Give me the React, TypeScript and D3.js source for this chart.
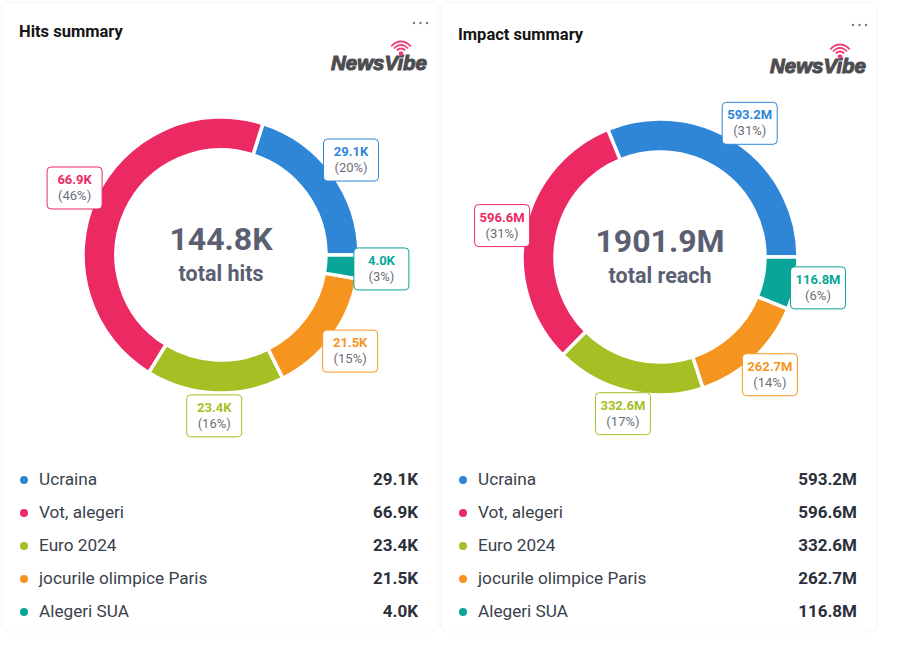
import React from "react";
import * as d3 from "d3";

const categories = ["Ucraina", "Vot, alegeri", "Euro 2024", "jocurile olimpice Paris", "Alegeri SUA"];
const colors = ["#2f86d7", "#eb2a63", "#a5bf25", "#f5951f", "#08a598"];
const hitsValues = [29.1, 66.9, 23.4, 21.5, 4.0];
const reachValues = [593.2, 596.6, 332.6, 262.7, 116.8];
const hitsLabels = ["29.1K", "66.9K", "23.4K", "21.5K", "4.0K"];
const reachLabels = ["593.2M", "596.6M", "332.6M", "262.7M", "116.8M"];
const totals = ["144.8K", "1901.9M"];
const totalCaptions = ["total hits", "total reach"];
const titles = ["Hits summary", "Impact summary"];

const FONT = "Roboto, 'Noto Sans', sans-serif";

function Logo({ x, y }: { x: number; y: number }) {
  const ix = x + 70;
  const iy = y - 16.5;
  return (
    <g>
      <text x={x} y={y} fontFamily="'Liberation Sans', Arial, sans-serif" fontWeight={900}
        fontStyle="italic" fontSize={21} fill="#4d4d4f" textLength={96} lengthAdjust="spacingAndGlyphs"
        stroke="#4d4d4f" strokeWidth={1.1}>NewsVibe</text>
      <circle cx={ix} cy={iy} r={2.3} fill="#e8447c" />
      {[5, 8.5, 12].map((r, i) => (
        <path key={i} d={d3.arc()({ innerRadius: r - 0.9, outerRadius: r + 0.9, startAngle: -Math.PI / 3.3, endAngle: Math.PI / 3.3 }) as string}
          transform={`translate(${ix},${iy})`} fill="#e8447c" />
      ))}
    </g>
  );
}

function Panel({ ox, values, labels, total, caption, title, titleY, dotsY, logoY, cx, cy }:
  { ox: number; values: number[]; labels: string[]; total: string; caption: string; title: string; titleY: number; dotsY: number; logoY: number; cx: number; cy: number }) {
  const pie = d3.pie<number>().sort(null).value((d) => d).startAngle(Math.PI / 2).endAngle(Math.PI / 2 - 2 * Math.PI);
  const arcs = pie(values);
  const outerR = 138;
  const innerR = 105;
  const arcGen = d3.arc<d3.PieArcDatum<number>>().innerRadius(innerR).outerRadius(outerR);
  const labelArc = d3.arc<d3.PieArcDatum<number>>().innerRadius(161).outerRadius(161);
  const sum = d3.sum(values);
  const legendY = d3.scaleLinear().domain([0, 1]).range([485, 518]);
  const boxW = 55, boxH = 42;
  return (
    <g>
      <rect x={ox + 2} y={2} width={436} height={630} rx={6} fill="#fff" stroke="#f5f5f7" strokeWidth={1} />
      <text x={ox + 19} y={titleY} fontFamily={FONT} fontWeight={700} fontSize={16.5} fill="#141414">{title}</text>
      {[0, 1, 2].map((i) => (
        <circle key={i} cx={ox + 414 + i * 6.5} cy={dotsY} r={1.2} fill="#777" />
      ))}
      <Logo x={ox + 331} y={logoY} />
      <g transform={`translate(${cx},${cy})`}>
        {arcs.map((a, i) => (
          <path key={i} d={arcGen(a) as string} fill={colors[i]} stroke="#fff" strokeWidth={3.5} strokeLinejoin="miter" />
        ))}
        <text x={0} y={-5} textAnchor="middle" fontFamily={FONT} fontWeight={700} fontSize={32} fill="#5a6072">{total}</text>
        <text x={0} y={26} textAnchor="middle" fontFamily={FONT} fontWeight={700} fontSize={21.5} fill="#5a6072">{caption}</text>
        {arcs.map((a, i) => {
          const [lx, ly] = labelArc.centroid(a);
          const pct = Math.round((values[i] / sum) * 100);
          return (
            <g key={i} transform={`translate(${lx},${ly})`}>
              <rect x={-boxW / 2} y={-boxH / 2} width={boxW} height={boxH} rx={4} fill="#fff" stroke={colors[i]} strokeWidth={1} />
              <text x={0} y={-4} textAnchor="middle" fontFamily={FONT} fontWeight={700} fontSize={13} fill={colors[i]}>{labels[i]}</text>
              <text x={0} y={12} textAnchor="middle" fontFamily={FONT} fontSize={13} fill="#6b6f78">({pct}%)</text>
            </g>
          );
        })}
      </g>
      {categories.map((c, i) => (
        <g key={c}>
          <circle cx={ox + 24} cy={legendY(i) - 5} r={4} fill={colors[i]} />
          <text x={ox + 39} y={legendY(i)} fontFamily={FONT} fontSize={17.2} fill="#3a3f4c">{c}</text>
          <text x={ox + 418} y={legendY(i)} textAnchor="end" fontFamily={FONT} fontWeight={700} fontSize={17} fill="#2c303b">{labels[i]}</text>
        </g>
      ))}
    </g>
  );
}

export default function App() {
  return (
    <div style={{ position: "fixed", left: 0, top: 0, width: 904, height: 648, background: "#fff" }}>
      <svg width={904} height={648} style={{ display: "block" }}>
        <rect width={904} height={648} fill="#fff" />
        <Panel ox={0} values={hitsValues} labels={hitsLabels} total={totals[0]} caption={totalCaptions[0]}
          title={titles[0]} titleY={37} dotsY={23} logoY={70} cx={221} cy={255} />
        <Panel ox={439} values={reachValues} labels={reachLabels} total={totals[1]} caption={totalCaptions[1]}
          title={titles[1]} titleY={40} dotsY={25} logoY={73} cx={660} cy={257} />
      </svg>
    </div>
  );
}
